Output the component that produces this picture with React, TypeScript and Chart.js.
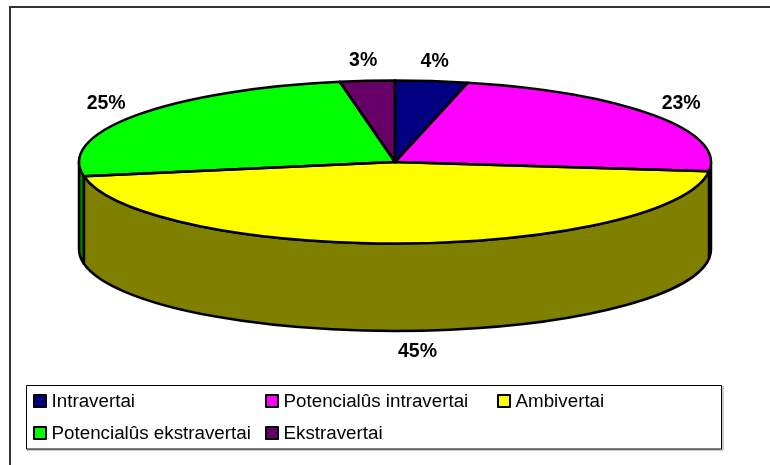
import React, { useEffect, useRef } from "react";
import { Chart, registerables } from "chart.js";

Chart.register(...registerables);

const categories = ["Intravertai", "Potencialûs intravertai", "Ambivertai", "Potencialûs ekstravertai", "Ekstravertai"];
const shares = [3.7, 23.1, 45.4, 25, 2.8];
const colors = ["#000080", "#FF00FF", "#FFFF00", "#00FF00", "#660066"];

const FONT = '"Liberation Sans", Arial, sans-serif';
const TILT = 81.5 / 316;
const DEPTH = 87.5;
const LABEL_PAD_X = 35;
const LABEL_PAD_Y = 20;
const OUTLINE = 2.5;

const shade = (hex: string) => {
  const n = parseInt(hex.slice(1), 16);
  return `rgb(${(n >> 16) >> 1},${((n >> 8) & 255) >> 1},${(n & 255) >> 1})`;
};

const pie3d = {
  id: "pie3d",
  beforeDraw(chart: any) {
    const { ctx } = chart;
    ctx.save();
    ctx.fillStyle = "#fff";
    ctx.fillRect(0, 0, chart.width, chart.height);
    ctx.strokeStyle = "#333";
    ctx.lineWidth = 2;
    ctx.strokeRect(10, 7, 900, 600);
    ctx.restore();
  },
  beforeDatasetsDraw(chart: any) {
    const { ctx } = chart;
    const arcs = chart.getDatasetMeta(0).data;
    const { x: cx, y: cy, outerRadius: rx } = arcs[0];
    const ry = rx * TILT;
    ctx.save();
    ctx.lineWidth = OUTLINE;
    ctx.lineJoin = "round";
    ctx.strokeStyle = "#000";
    arcs.forEach((arc: any, i: number) => {
      const a0 = Math.max(arc.startAngle, 0);
      const a1 = Math.min(arc.endAngle, Math.PI);
      if (a1 <= a0) return;
      ctx.beginPath();
      ctx.ellipse(cx, cy, rx, ry, 0, a0, a1);
      ctx.ellipse(cx, cy + DEPTH, rx, ry, 0, a1, a0, true);
      ctx.closePath();
      ctx.fillStyle = shade(colors[i]);
      ctx.fill();
      ctx.stroke();
    });
    ctx.restore();
    ctx.save();
    ctx.translate(cx, cy);
    ctx.scale(1, TILT);
    ctx.translate(-cx, -cy);
  },
  afterDatasetsDraw(chart: any) {
    const { ctx } = chart;
    ctx.restore();
    const arcs = chart.getDatasetMeta(0).data;
    const { x: cx, y: cy, outerRadius: rx } = arcs[0];
    const ry = rx * TILT;
    const values: number[] = chart.data.datasets[0].data;
    const total = values.reduce((s, v) => s + v, 0);
    ctx.save();
    ctx.lineWidth = OUTLINE;
    ctx.lineJoin = "round";
    ctx.strokeStyle = "#000";
    arcs.forEach((arc: any) => {
      ctx.beginPath();
      ctx.moveTo(cx, cy);
      ctx.ellipse(cx, cy, rx, ry, 0, arc.startAngle, arc.endAngle);
      ctx.closePath();
      ctx.stroke();
    });
    ctx.fillStyle = "#000";
    ctx.font = `bold 19.5px ${FONT}`;
    ctx.textAlign = "center";
    ctx.textBaseline = "middle";
    arcs.forEach((arc: any, i: number) => {
      const mid = (arc.startAngle + arc.endAngle) / 2;
      const sin = Math.sin(mid);
      const lower = sin > 0;
      const lx = cx + Math.cos(mid) * (rx + LABEL_PAD_X) + (lower ? 11.5 : -1);
      const ly = cy + sin * (ry + LABEL_PAD_Y) + (lower ? DEPTH + 0.5 : 0);
      ctx.fillText(`${Math.round((values[i] / total) * 100)}%`, lx, ly);
    });

    // legend
    ctx.fillStyle = "#fff";
    ctx.strokeStyle = "#999";
    ctx.beginPath();
    ctx.moveTo(723, 386);
    ctx.lineTo(723, 450);
    ctx.lineTo(27, 450);
    ctx.lineWidth = 1;
    ctx.stroke();
    ctx.strokeStyle = "#000";
    ctx.fillRect(26.5, 385.5, 695, 63.5);
    ctx.strokeRect(26.5, 385.5, 695, 63.5);
    ctx.font = `18.8px ${FONT}`;
    ctx.textAlign = "left";
    chart.data.labels.forEach((label: string, i: number) => {
      const x = 33 + (i % 3) * 232;
      const y = 401 + Math.floor(i / 3) * 32;
      ctx.fillStyle = colors[i];
      ctx.lineWidth = 2;
      ctx.fillRect(x + 1, y - 6, 12, 12);
      ctx.strokeRect(x + 1, y - 6, 12, 12);
      ctx.fillStyle = "#000";
      ctx.fillText(label, x + 18.5, y + 0.5);
    });
    ctx.restore();
  },
};

export default function App() {
  const ref = useRef<HTMLCanvasElement>(null);
  useEffect(() => {
    const chart = new Chart(ref.current!, {
      type: "pie",
      data: {
        labels: categories,
        datasets: [
          {
            data: shares,
            backgroundColor: colors,
            borderWidth: 0,
            radius: 316,
            clip: false,
          } as any,
        ],
      },
      options: {
        animation: false,
        responsive: false,
        layout: { padding: { left: 20, bottom: 141 } },
        plugins: { legend: { display: false }, tooltip: { enabled: false } },
      },
      plugins: [pie3d],
    });
    return () => chart.destroy();
  }, []);
  return (
    <canvas
      ref={ref}
      width={770}
      height={465}
      style={{ position: "fixed", left: 0, top: 0, display: "block" }}
    />
  );
}
